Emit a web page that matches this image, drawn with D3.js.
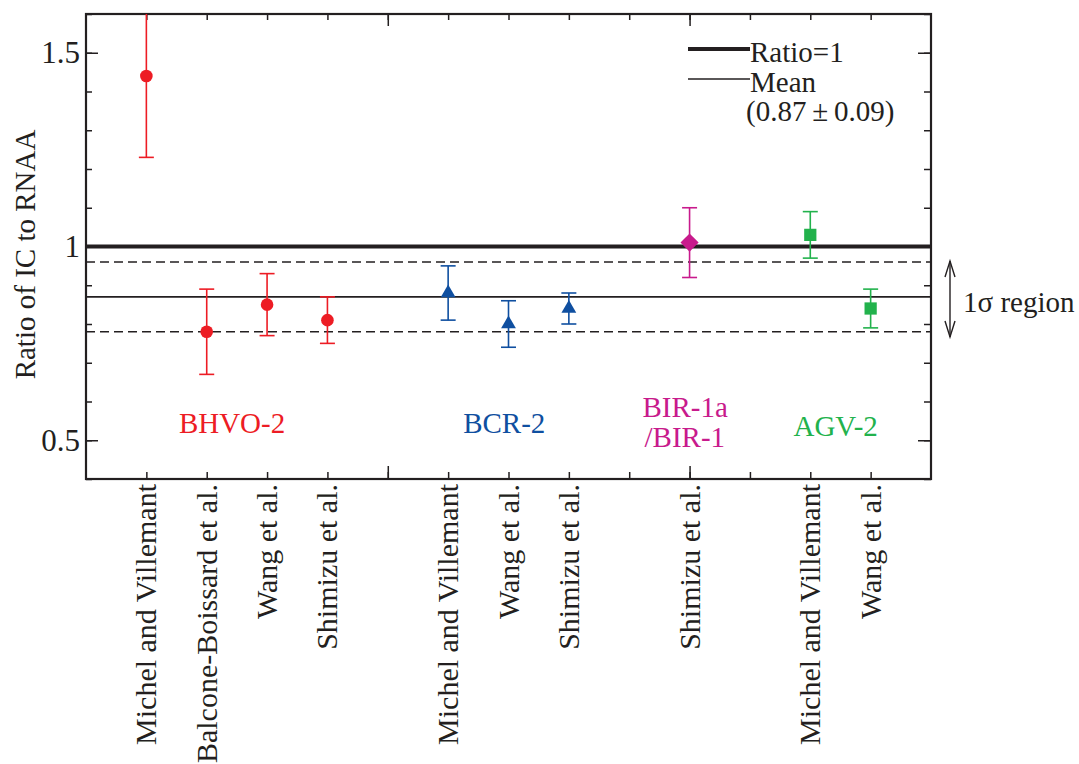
<!DOCTYPE html>
<html>
<head>
<meta charset="utf-8">
<script src="https://cdn.jsdelivr.net/npm/d3@7"></script>
<style>
  body { margin: 0; background: #fff; }
  text { font-family: "Liberation Serif", "DejaVu Serif", serif; fill: #231f20; }
</style>
</head>
<body>
<div id="chart"></div>
<script>
// data
var refs = ["Michel and Villemant", "Balcone-Boissard et al.", "Wang et al.", "Shimizu et al.",
            "Michel and Villemant", "Wang et al.", "Shimizu et al.",
            "Shimizu et al.",
            "Michel and Villemant", "Wang et al."];
var slot = [1, 2, 3, 4, 6, 7, 8, 10, 12, 13];
var sampleOf = [0, 0, 0, 0, 1, 1, 1, 2, 3, 3];
var ratio = [1.44, 0.78, 0.85, 0.81, 0.88, 0.80, 0.84, 1.01, 1.03, 0.84];
var errLow = [1.23, 0.67, 0.77, 0.75, 0.81, 0.74, 0.80, 0.92, 0.97, 0.79];
var errHigh = [1.65, 0.89, 0.93, 0.87, 0.95, 0.86, 0.88, 1.10, 1.09, 0.89];

var samples = ["BHVO-2", "BCR-2", "BIR-1a\n/BIR-1", "AGV-2"];
var sampleColors = ["#ed1c24", "#0f4fa0", "#c81a8c", "#22b24c"];
var sampleSymbols = ["circle", "triangle", "diamond", "square"];

var refLine = 1;
var meanValue = 0.87;
var meanSd = 0.09;
var yTicks = [0.5, 1, 1.5];

function init() {
    var w = 1079;
    var h = 764;
    var left = 86, right = 931, top = 14, bottom = 479;

    var xScale = d3.scaleLinear().domain([0, 14]).range([left, right]);
    var yScale = d3.scaleLinear().domain([0.4, 1.6]).range([bottom, top]);

    var svg = d3.select("#chart").append("svg")
        .attr("width", w)
        .attr("height", h);

    svg.append("clipPath").attr("id", "plotclip")
        .append("rect")
        .attr("x", left).attr("y", top)
        .attr("width", right - left).attr("height", bottom - top);

    var ink = "#231f20";
    var minorY = d3.range(4, 17).map(function(d) { return d / 10; });
    var minorX = d3.range(1, 14);
    var majorX = [5, 10];

    // axes with inward ticks
    function styleAxis(g) {
        g.select(".domain").remove();
        g.selectAll("line").attr("stroke", ink).attr("stroke-width", 1.5);
    }
    svg.append("g").attr("transform", "translate(" + left + ",0)")
        .call(d3.axisLeft(yScale).tickValues(minorY).tickSize(-6).tickFormat(""))
        .call(styleAxis);
    svg.append("g").attr("transform", "translate(" + left + ",0)")
        .call(d3.axisLeft(yScale).tickValues(yTicks).tickSize(-12).tickPadding(6)
            .tickFormat(function(d) { return String(d); }))
        .call(styleAxis)
        .selectAll("text")
        .attr("font-size", 31)
        .attr("fill", ink)
        .attr("font-family", "Liberation Serif");
    svg.append("g").attr("transform", "translate(" + right + ",0)")
        .call(d3.axisRight(yScale).tickValues(minorY).tickSize(-7).tickFormat(""))
        .call(styleAxis);
    svg.append("g").attr("transform", "translate(" + right + ",0)")
        .call(d3.axisRight(yScale).tickValues(yTicks).tickSize(-13).tickFormat(""))
        .call(styleAxis);
    svg.append("g").attr("transform", "translate(0," + bottom + ")")
        .call(d3.axisBottom(xScale).tickValues(minorX).tickSize(-7).tickFormat(""))
        .call(styleAxis);
    svg.append("g").attr("transform", "translate(0," + bottom + ")")
        .call(d3.axisBottom(xScale).tickValues(majorX).tickSize(-13).tickFormat(""))
        .call(styleAxis);
    svg.append("g").attr("transform", "translate(0," + top + ")")
        .call(d3.axisTop(xScale).tickValues(minorX).tickSize(-6).tickFormat(""))
        .call(styleAxis);
    svg.append("g").attr("transform", "translate(0," + top + ")")
        .call(d3.axisTop(xScale).tickValues(majorX).tickSize(-12).tickFormat(""))
        .call(styleAxis);

    svg.append("rect")
        .attr("x", left).attr("y", top)
        .attr("width", right - left).attr("height", bottom - top)
        .attr("fill", "none").attr("stroke", ink).attr("stroke-width", 2.2);

    // reference lines
    var lines = svg.append("g");
    lines.append("line")
        .attr("x1", left).attr("x2", right)
        .attr("y1", yScale(refLine)).attr("y2", yScale(refLine))
        .attr("stroke", ink).attr("stroke-width", 4);
    lines.append("line")
        .attr("x1", left).attr("x2", right)
        .attr("y1", yScale(meanValue)).attr("y2", yScale(meanValue))
        .attr("stroke", ink).attr("stroke-width", 1.6);
    lines.selectAll("line.sd")
        .data([meanValue + meanSd, meanValue - meanSd])
        .enter().append("line")
        .attr("class", "sd")
        .attr("x1", left).attr("x2", right)
        .attr("y1", function(d) { return yScale(d); })
        .attr("y2", function(d) { return yScale(d); })
        .attr("stroke", ink).attr("stroke-width", 1.6)
        .attr("stroke-dasharray", "9,5");

    // error bars
    var pts = d3.range(ratio.length);
    var bars = svg.append("g").attr("clip-path", "url(#plotclip)");
    bars.selectAll("line.err")
        .data(pts).enter().append("line")
        .attr("class", "err")
        .attr("x1", function(i) { return xScale(slot[i]); })
        .attr("x2", function(i) { return xScale(slot[i]); })
        .attr("y1", function(i) { return yScale(errLow[i]); })
        .attr("y2", function(i) { return yScale(errHigh[i]); })
        .attr("stroke", function(i) { return sampleColors[sampleOf[i]]; })
        .attr("stroke-width", 1.6);
    var caps = [];
    pts.forEach(function(i) {
        caps.push({ i: i, v: errLow[i] });
        caps.push({ i: i, v: errHigh[i] });
    });
    bars.selectAll("line.cap")
        .data(caps).enter().append("line")
        .attr("class", "cap")
        .attr("x1", function(d) { return xScale(slot[d.i]) - 7.5; })
        .attr("x2", function(d) { return xScale(slot[d.i]) + 7.5; })
        .attr("y1", function(d) { return yScale(d.v); })
        .attr("y2", function(d) { return yScale(d.v); })
        .attr("stroke", function(d) { return sampleColors[sampleOf[d.i]]; })
        .attr("stroke-width", 1.6);

    // markers
    var symbolType = {
        circle: d3.symbolCircle,
        triangle: d3.symbolTriangle,
        diamond: d3.symbolSquare,
        square: d3.symbolSquare
    };
    var symbolSize = { circle: 125, triangle: 95, diamond: 165, square: 150 };
    svg.append("g").selectAll("path")
        .data(pts).enter().append("path")
        .attr("d", function(i) {
            var s = sampleSymbols[sampleOf[i]];
            return d3.symbol().type(symbolType[s]).size(symbolSize[s])();
        })
        .attr("transform", function(i) {
            var t = "translate(" + xScale(slot[i]) + "," + yScale(ratio[i]) + ")";
            if (sampleSymbols[sampleOf[i]] == "diamond") t += " rotate(45)";
            return t;
        })
        .attr("fill", function(i) { return sampleColors[sampleOf[i]]; });

    // sample labels
    var labelX = [2.42, 6.93, 9.22, 12.42];
    var labelY = [0.52, 0.52, 0.56, 0.512];
    var anchors = ["middle", "middle", "start", "middle"];
    samples.forEach(function(name, k) {
        var t = svg.append("text")
            .attr("x", xScale(labelX[k]))
            .attr("y", yScale(labelY[k]))
            .attr("text-anchor", anchors[k])
            .attr("font-size", 29)
            .style("fill", sampleColors[k]);
        name.split("\n").forEach(function(part, j) {
            t.append("tspan")
                .attr("x", xScale(labelX[k]) + (j > 0 ? 2 : 0))
                .attr("dy", j == 0 ? 0 : 30)
                .text(part);
        });
    });

    // reference names under the axis
    svg.append("g").selectAll("text")
        .data(pts).enter().append("text")
        .attr("transform", function(i) {
            return "translate(" + (xScale(slot[i]) + 10) + "," + (bottom + 5) + ") rotate(-90)";
        })
        .attr("text-anchor", "end")
        .attr("font-size", 30)
        .text(function(i) { return refs[i]; });

    // y title
    svg.append("text")
        .attr("transform", "translate(35," + ((top + bottom) / 2 + 8) + ") rotate(-90)")
        .attr("text-anchor", "middle")
        .attr("font-size", 29)
        .text("Ratio of IC to RNAA");

    // legend
    var lg = svg.append("g");
    lg.append("line").attr("x1", 688).attr("x2", 750).attr("y1", 49).attr("y2", 49)
        .attr("stroke", ink).attr("stroke-width", 4);
    lg.append("line").attr("x1", 688).attr("x2", 750).attr("y1", 79).attr("y2", 79)
        .attr("stroke", ink).attr("stroke-width", 1.6);
    lg.append("text").attr("x", 750).attr("y", 62).attr("font-size", 29).text("Ratio=1");
    lg.append("text").attr("x", 750).attr("y", 92).attr("font-size", 29).text("Mean");
    lg.append("text").attr("x", 746).attr("y", 121).attr("font-size", 29)
        .text("(" + meanValue + "\u2009\u00b1\u2009" + meanSd.toFixed(2) + ")");

    // 1 sigma arrow
    var ax = 950, a1 = 261, a2 = 337;
    var arr = svg.append("g").attr("stroke", ink).attr("stroke-width", 1.4).attr("fill", "none");
    arr.append("line").attr("x1", ax).attr("x2", ax).attr("y1", a1).attr("y2", a2);
    arr.append("path").attr("d", "M" + (ax - 5) + "," + (a1 + 16) + "L" + ax + "," + a1 + "L" + (ax + 5) + "," + (a1 + 16));
    arr.append("path").attr("d", "M" + (ax - 5) + "," + (a2 - 16) + "L" + ax + "," + a2 + "L" + (ax + 5) + "," + (a2 - 16));
    svg.append("text").attr("x", 963).attr("y", 312).attr("font-size", 29).text("1\u03c3 region");
}

window.onload = init;
</script>
</body>
</html>
